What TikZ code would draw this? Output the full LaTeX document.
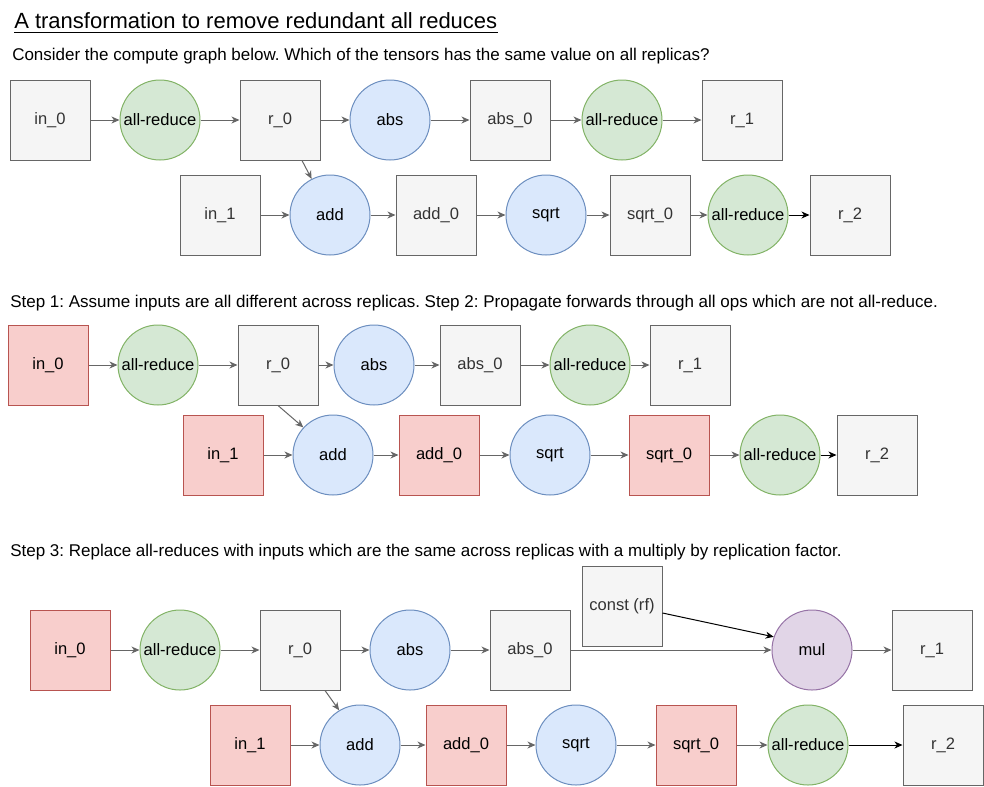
\documentclass[tikz,border=0pt]{standalone}
\usepackage{fontspec}
\setmainfont{Liberation Sans}
\usetikzlibrary{arrows.meta,calc}
\definecolor{bordG}{HTML}{666666}
\definecolor{fillG}{HTML}{F5F5F5}
\definecolor{textG}{HTML}{333333}
\definecolor{bordR}{HTML}{B85450}
\definecolor{fillR}{HTML}{F8CECC}
\definecolor{bordGr}{HTML}{82B366}
\definecolor{fillGr}{HTML}{D5E8D4}
\definecolor{bordB}{HTML}{6C8EBF}
\definecolor{fillB}{HTML}{DAE8FC}
\definecolor{bordP}{HTML}{9673A6}
\definecolor{fillP}{HTML}{E1D5E7}
\frenchspacing
\begin{document}
\begin{tikzpicture}[x=0.75pt,y=-0.75pt,
  every node/.style={font=\fontsize{12.4}{14}\selectfont},
  tbox/.style={rectangle, minimum size=60pt, inner sep=0pt, line width=0.75pt, draw=bordG, fill=fillG, text=textG},
  rbox/.style={tbox, draw=bordR, fill=fillR, text=black},
  opnode/.style={circle, minimum size=60pt, inner sep=0pt, line width=0.75pt, text=black},
  gop/.style={opnode, draw=bordGr, fill=fillGr},
  bop/.style={opnode, draw=bordB, fill=fillB},
  pop/.style={opnode, draw=bordP, fill=fillP},
  arr/.style={draw=bordG, line width=0.75pt, -{Stealth[length=6pt,width=5.2pt,inset=1.8pt]}},
  barr/.style={arr, draw=black},
  caption/.style={anchor=base west, inner sep=0pt, text=black, font=\fontsize{12.75}{15}\selectfont}
]
\useasboundingbox (0,0) rectangle (984,786);
% texts
\node[caption, font=\fontsize{16.5}{19}\selectfont] (title) at (14,28) {A transformation to remove redundant all reduces};
\draw[line width=0.9pt] ($(title.base west)+(0,4.5)$) coordinate (ul1) -- ($(title.base east)+(0,4.5)$) coordinate (ul2);
\node[caption] (sub) at (12,60) {Consider the compute graph below. Which of the tensors has the same value on all replicas?};
\node[caption] (step12) at (10,307) {Step 1: Assume inputs are all different across replicas. Step 2: Propagate forwards through all ops which are not all-reduce.};
\node[caption] (step3) at (10,556) {Step 3: Replace all-reduces with inputs which are the same across replicas with a multiply by replication factor.};

% ---------- panel 1 ----------
\node[tbox] (a_in0) at (50,120) {in\_0};
\node[gop] (a_ar0) at (160,120) {all-reduce};
\node[tbox] (a_r0) at (280,120) {r\_0};
\node[bop] (a_abs) at (390,120) {abs};
\node[tbox] (a_abs0) at (510,120) {abs\_0};
\node[gop] (a_ar1) at (622,120) {all-reduce};
\node[tbox] (a_r1) at (742,120) {r\_1};
\node[tbox] (a_in1) at (220,215) {in\_1};
\node[bop] (a_add) at (330,215) {add};
\node[tbox] (a_add0) at (436,215) {add\_0};
\node[bop] (a_sqrt) at (546,215) {sqrt};
\node[tbox] (a_sqrt0) at (650,215) {sqrt\_0};
\node[gop] (a_ar2) at (748,215) {all-reduce};
\node[tbox] (a_r2) at (850,215) {r\_2};
\draw[arr] (a_in0) -- (a_ar0);
\draw[arr] (a_ar0) -- (a_r0);
\draw[arr] (a_r0) -- (a_abs);
\draw[arr] (a_abs) -- (a_abs0);
\draw[arr] (a_abs0) -- (a_ar1);
\draw[arr] (a_ar1) -- (a_r1);
\draw[arr] (a_in1) -- (a_add);
\draw[arr] (a_add) -- (a_add0);
\draw[arr] (a_add0) -- (a_sqrt);
\draw[arr] (a_sqrt) -- (a_sqrt0);
\draw[arr] (a_sqrt0) -- (a_ar2);
\draw[barr] (a_ar2) -- (a_r2);
\draw[arr] ($(a_r0.south)+(22,0)$) -- (a_add.117);

% ---------- panel 2 ----------
\node[rbox] (b_in0) at (48,365) {in\_0};
\node[gop] (b_ar0) at (158,365) {all-reduce};
\node[tbox] (b_r0) at (278,365) {r\_0};
\node[bop] (b_abs) at (374,365) {abs};
\node[tbox] (b_abs0) at (480,365) {abs\_0};
\node[gop] (b_ar1) at (590,365) {all-reduce};
\node[tbox] (b_r1) at (690,365) {r\_1};
\node[rbox] (b_in1) at (223,455) {in\_1};
\node[bop] (b_add) at (333,455) {add};
\node[rbox] (b_add0) at (439,455) {add\_0};
\node[bop] (b_sqrt) at (550,455) {sqrt};
\node[rbox] (b_sqrt0) at (669,455) {sqrt\_0};
\node[gop] (b_ar2) at (780,455) {all-reduce};
\node[tbox] (b_r2) at (877,455) {r\_2};
\draw[arr] (b_in0) -- (b_ar0);
\draw[arr] (b_ar0) -- (b_r0);
\draw[arr] (b_r0) -- (b_abs);
\draw[arr] (b_abs) -- (b_abs0);
\draw[arr] (b_abs0) -- (b_ar1);
\draw[arr] (b_ar1) -- (b_r1);
\draw[arr] (b_in1) -- (b_add);
\draw[arr] (b_add) -- (b_add0);
\draw[arr] (b_add0) -- (b_sqrt);
\draw[arr] (b_sqrt) -- (b_sqrt0);
\draw[arr] (b_sqrt0) -- (b_ar2);
\draw[barr] (b_ar2) -- (b_r2);
\draw[arr] (b_r0.south) -- (b_add.137);

% ---------- panel 3 ----------
\node[tbox] (c_const) at (622,606) {const (rf)};
\node[rbox] (c_in0) at (70,650) {in\_0};
\node[gop] (c_ar0) at (180,650) {all-reduce};
\node[tbox] (c_r0) at (300,650) {r\_0};
\node[bop] (c_abs) at (410,650) {abs};
\node[tbox] (c_abs0) at (530,650) {abs\_0};
\node[pop] (c_mul) at (812,650) {mul};
\node[tbox] (c_r1) at (932,650) {r\_1};
\node[rbox] (c_in1) at (250,745) {in\_1};
\node[bop] (c_add) at (360,745) {add};
\node[rbox] (c_add0) at (466,745) {add\_0};
\node[bop] (c_sqrt) at (576,745) {sqrt};
\node[rbox] (c_sqrt0) at (696,745) {sqrt\_0};
\node[gop] (c_ar2) at (808,745) {all-reduce};
\node[tbox] (c_r2) at (943,745) {r\_2};
\draw[arr] (c_in0) -- (c_ar0);
\draw[arr] (c_ar0) -- (c_r0);
\draw[arr] (c_r0) -- (c_abs);
\draw[arr] (c_abs) -- (c_abs0);
\draw[arr] (c_abs0) -- (c_mul);
\draw[arr] (c_mul) -- (c_r1);
\draw[barr] ($(c_const.east)+(0,7)$) -- (c_mul.161);
\draw[arr] (c_in1) -- (c_add);
\draw[arr] (c_add) -- (c_add0);
\draw[arr] (c_add0) -- (c_sqrt);
\draw[arr] (c_sqrt) -- (c_sqrt0);
\draw[arr] (c_sqrt0) -- (c_ar2);
\draw[barr] (c_ar2) -- (c_r2);
\draw[arr] ($(c_r0.south)+(25,0)$) -- (c_add.121);
\end{tikzpicture}
\end{document}
